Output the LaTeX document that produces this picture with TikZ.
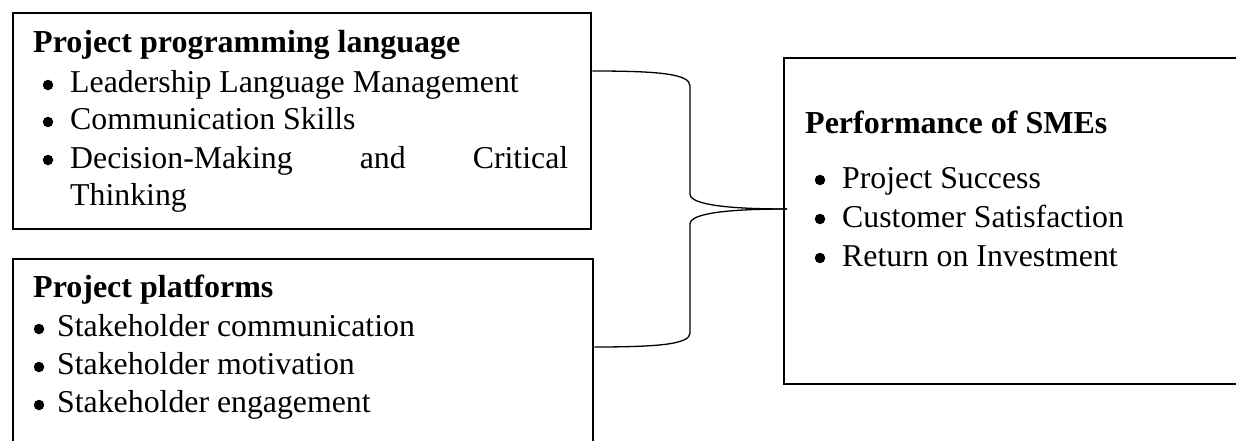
\documentclass[tikz,border=0pt]{standalone}
\usepackage{fontspec}
\setmainfont{Liberation Serif}
\begin{document}
\begin{tikzpicture}[x=1pt,y=-1pt,
  framebox/.style={draw=black, line width=2.4pt, inner sep=0pt, anchor=north west},
  head/.style={anchor=base west, inner sep=0pt, font=\fontsize{32}{37}\selectfont\bfseries},
  item/.style={anchor=base west, inner sep=0pt, font=\fontsize{31.8}{37}\selectfont},
  bul/.style={circle, fill=black, inner sep=0pt, minimum size=10.5pt},
  brace/.style={draw=black, line width=1.3pt}]
\useasboundingbox (0,0) rectangle (1236,441);

% frames
\node[framebox, minimum width=578pt, minimum height=216pt] (ppl) at (12,12) {};
\node[framebox, minimum width=580pt, minimum height=240pt] (plat) at (12,258) {};
\node[framebox, minimum width=500pt, minimum height=326pt] (perf) at (783,57) {};

% programming language box
\node[head] (h1) at (33,53) {Project programming language};
\node[bul] (d11) at (48,85) {};
\node[item] (t11) at (70,93) {Leadership Language Management};
\node[bul] (d12) at (48,122) {};
\node[item] (t12) at (70,130) {Communication Skills};
\node[bul] (d13) at (48,160) {};
\node[item] (t13) at (70,168) {\makebox[498pt][s]{Decision-Making and Critical}};
\node[item] (t14) at (70,205) {Thinking};

% platforms box
\node[head] (h2) at (33,297) {Project platforms};
\node[bul] (d21) at (39,329) {};
\node[item] (t21) at (57,336) {Stakeholder communication};
\node[bul] (d22) at (39,367) {};
\node[item] (t22) at (57,374) {Stakeholder motivation};
\node[bul] (d23) at (39,405) {};
\node[item] (t23) at (57,412) {Stakeholder engagement};

% performance box
\node[head] (h3) at (805,133) {Performance of SMEs};
\node[bul] (d31) at (820,180) {};
\node[item] (t31) at (842,188) {Project Success};
\node[bul] (d32) at (820,219) {};
\node[item] (t32) at (842,227) {Customer Satisfaction};
\node[bul] (d33) at (820,258) {};
\node[item] (t33) at (842,266) {Return on Investment};

% curly bracket joining the two left frames to the right one
\coordinate (ya) at (0,71);
\coordinate (yb) at (0,347);
\coordinate (yc) at (0,209);
\coordinate (s1) at (ppl.east |- ya);
\coordinate (s2) at (plat.east |- yb);
\coordinate (tip) at ([xshift=4pt]perf.west |- yc);
\draw[brace] (s1) .. controls (660,71) and (690,74) .. (690,86)
  -- (690,194) .. controls (690,205) and (730,209) .. (tip);
\draw[brace] (tip) .. controls (730,209) and (690,213) .. (690,224)
  -- (690,333) .. controls (690,344) and (660,347) .. (s2);
\end{tikzpicture}
\end{document}
